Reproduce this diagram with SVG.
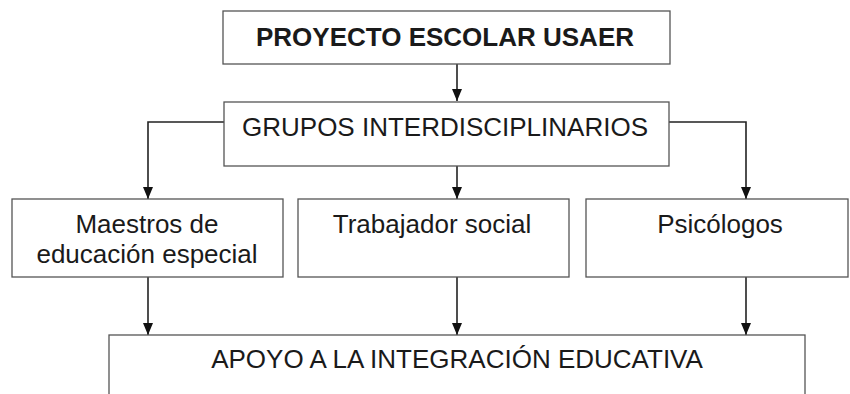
<svg xmlns="http://www.w3.org/2000/svg" width="850" height="394" viewBox="0 0 850 394">
<style>
.box{fill:#fff;stroke:#555;stroke-width:1.3}
.t{font-family:"Liberation Sans",Arial,sans-serif;font-size:26px;fill:#1a1a1a;text-anchor:middle}
.b{font-weight:bold}
.c{fill:none;stroke:#222;stroke-width:1.6}
</style>
<defs>
<marker id="ah" viewBox="0 0 12 10" refX="12" refY="5" markerWidth="12" markerHeight="10" markerUnits="userSpaceOnUse" orient="auto">
<path d="M0,0 L12,5 L0,10 z" fill="#111"/>
</marker>
</defs>
<rect width="850" height="394" fill="#fff"/>
<g id="connectors">
<path class="c" d="M457,64 V101" marker-end="url(#ah)"/>
<path class="c" d="M224,122 H148 V199" marker-end="url(#ah)"/>
<path class="c" d="M457,166 V199" marker-end="url(#ah)"/>
<path class="c" d="M669,122 H746 V199" marker-end="url(#ah)"/>
<path class="c" d="M148,277 V335" marker-end="url(#ah)"/>
<path class="c" d="M457,277 V335" marker-end="url(#ah)"/>
<path class="c" d="M746,277 V335" marker-end="url(#ah)"/>
</g>
<g id="proyecto">
<rect class="box" x="223" y="11" width="447" height="53"/>
<text class="t b" x="445" y="46">PROYECTO ESCOLAR USAER</text>
</g>
<g id="grupos">
<rect class="box" x="224" y="102" width="445" height="64"/>
<text class="t" x="445" y="136">GRUPOS INTERDISCIPLINARIOS</text>
</g>
<g id="maestros">
<rect class="box" x="12" y="199" width="271" height="78"/>
<text class="t" x="147" y="233">Maestros de</text>
<text class="t" x="147" y="263">educación especial</text>
</g>
<g id="trabajador">
<rect class="box" x="298" y="199" width="271" height="78"/>
<text class="t" x="432" y="233">Trabajador social</text>
</g>
<g id="psicologos">
<rect class="box" x="586" y="199" width="262" height="78"/>
<text class="t" x="720" y="233">Psicólogos</text>
</g>
<g id="apoyo">
<rect class="box" x="109" y="335" width="696" height="70"/>
<text class="t" x="457" y="368">APOYO A LA INTEGRACIÓN EDUCATIVA</text>
</g>
</svg>
